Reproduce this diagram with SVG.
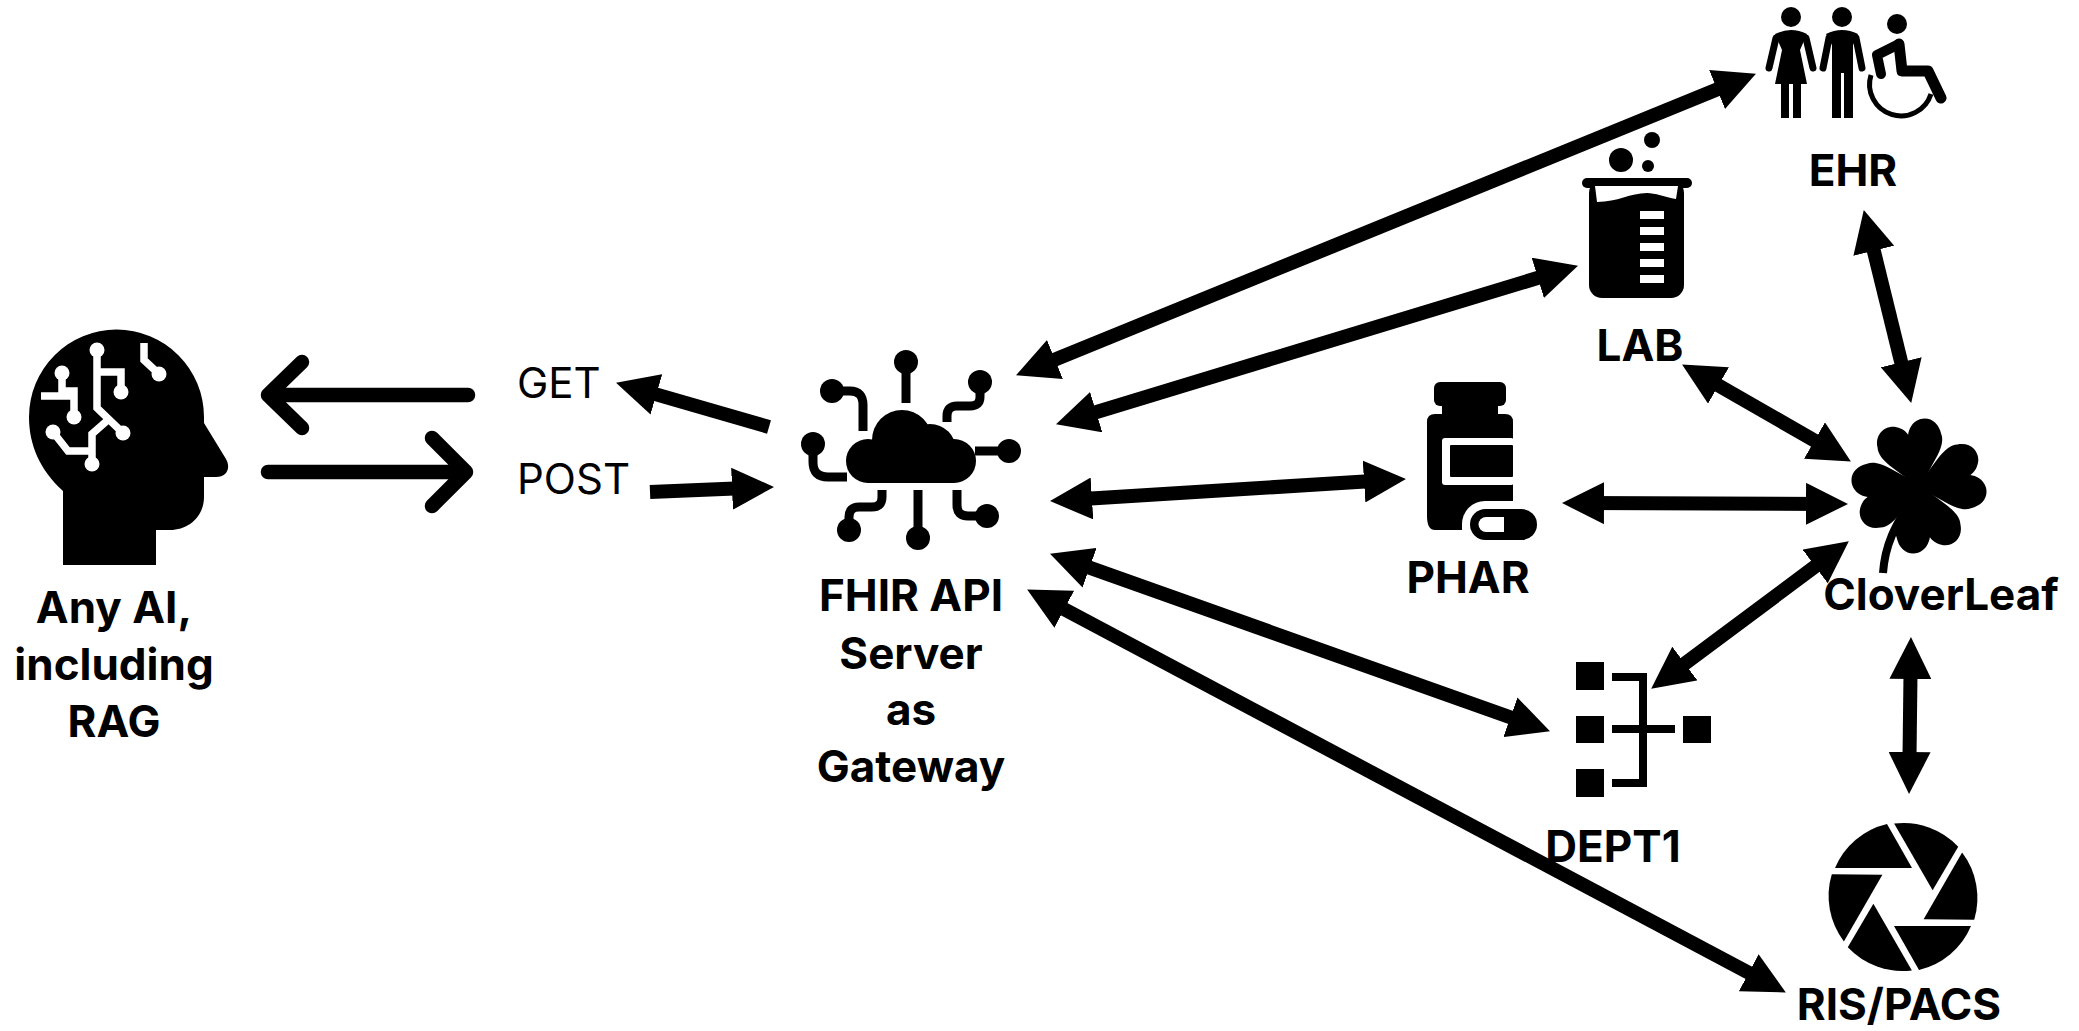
<svg xmlns="http://www.w3.org/2000/svg" xmlns:xlink="http://www.w3.org/1999/xlink" width="2079" height="1031" viewBox="0 0 2079 1031">
<style>
.bg{fill:#fff}
.k{fill:#000}
.w{fill:#fff}
.lbl{font-family:Inter,"Noto Sans","Liberation Sans",sans-serif;font-weight:700;font-size:44px;text-anchor:middle;fill:#000}
.verb{font-family:Inter,"Noto Sans","Liberation Sans",sans-serif;font-size:42px;fill:#000}
.cw{fill:none;stroke:#fff;stroke-width:7.5}
.ck{fill:none;stroke:#000;stroke-width:9}
.limb{fill:none;stroke:#000;stroke-width:7;stroke-linecap:round}
.c{fill:none;stroke:#000;stroke-width:14}
.two{marker-start:url(#h);marker-end:url(#h)}
.one{marker-end:url(#h)}
.big{fill:none;stroke:#000;stroke-width:14.5;stroke-linecap:round;stroke-linejoin:round}
</style>
<defs>
<marker id="h" markerUnits="userSpaceOnUse" markerWidth="42" markerHeight="42" refX="20" refY="20" orient="auto-start-reverse" viewBox="0 0 40 40"><path d="M0 0L40 20L0 40z" fill="#000"/></marker>
<path id="leaf" d="M0 2L-20 -21C-29 -31 -32 -38 -31 -44C-31 -57 -20 -63 -11 -60C-6 -58 -2 -55 0 -50C2 -55 6 -61 14 -62C24 -63 31 -55 31 -44C32 -38 29 -31 20 -21Z"/>
<path id="blade" d="M-16 -73L9 -29L-68 -29A75 75 0 0 1 -16 -73Z"/>
</defs>
<rect class="bg" width="2079" height="1031"/>

<g id="ai">
<path class="k" d="M63 491C40 470 29 445 29 417A87.5 87.5 0 0 1 204 417V423L226 459C231 468 227 477 216 477H204V497C204 516 189 530 170 530H156V565H63Z"/>
<g class="cw">
<path d="M97 350V408L123 433"/><path d="M97 372H121V392"/>
<path d="M62 373V391H74V417"/><path d="M41 396H74"/>
<path d="M144 343V360L159 374"/>
<path d="M53 432L68 451H92"/><path d="M92 464V434L109 419"/>
</g>
<g class="w"><circle cx="97" cy="350" r="7.5"/><circle cx="123" cy="433" r="7.5"/><circle cx="121" cy="392" r="7.5"/><circle cx="62" cy="373" r="7.5"/><circle cx="74" cy="417" r="7.5"/><circle cx="159" cy="374" r="7.5"/><circle cx="53" cy="432" r="7.5"/><circle cx="92" cy="464" r="7.5"/></g>
<text class="lbl" x="114" y="623">Any AI,</text>
<text class="lbl" x="114" y="680">including</text>
<text class="lbl" x="114" y="737">RAG</text>
</g>

<g id="get"><text class="verb" x="517" y="398">GET</text></g>
<g id="post"><text class="verb" x="517" y="494">POST</text></g>

<g id="fhir">
<g class="k"><circle cx="868" cy="461" r="22"/><circle cx="902" cy="440" r="30"/><circle cx="930" cy="450" r="26"/><circle cx="954" cy="461" r="22"/><rect x="868" y="445" width="86" height="38"/></g>
<g class="ck">
<path d="M906 362V403"/><path d="M980 382V397Q980 406 970 406H957Q947 406 947 416V422"/><path d="M975 451H1009"/>
<path d="M957 490V505Q957 516 968 516H987"/><path d="M918 490V538"/><path d="M882 490V497Q882 507 872 507H859Q849 507 849 517V530"/>
<path d="M813 444V462Q813 477 828 477H847"/><path d="M832 391H850Q863 391 863 405V431"/>
</g>
<g class="k"><circle cx="906" cy="362" r="12"/><circle cx="980" cy="382" r="12"/><circle cx="1009" cy="451" r="12"/><circle cx="987" cy="516" r="12"/><circle cx="918" cy="538" r="12"/><circle cx="849" cy="530" r="12"/><circle cx="813" cy="444" r="12"/><circle cx="832" cy="391" r="12"/></g>
<text class="lbl" x="911" y="611">FHIR API</text>
<text class="lbl" x="911" y="669">Server</text>
<text class="lbl" x="911" y="725">as</text>
<text class="lbl" x="911" y="782">Gateway</text>
</g>

<g id="ehr">
<circle class="k" cx="1791" cy="17" r="10"/>
<path class="k" d="M1775 34Q1791 26 1807 34L1800 50L1807 84H1801V118H1793V84H1789V118H1781V84H1775L1782 50Z"/>
<path class="limb" d="M1776 38L1769 68M1806 38L1813 68"/>
<circle class="k" cx="1842" cy="17" r="10"/>
<path class="k" d="M1826 34Q1842 26 1858 34L1853 45V118H1844V73H1841V118H1832V45Z"/>
<path class="limb" d="M1829 38L1823 68M1856 38L1862 68"/>
<circle class="k" cx="1897" cy="24" r="10"/>
<path fill="none" stroke="#000" stroke-width="11" stroke-linecap="round" stroke-linejoin="round" d="M1899 44L1902 71H1928L1941 98"/>
<path fill="none" stroke="#000" stroke-width="10" stroke-linecap="round" stroke-linejoin="round" d="M1899 44L1877 55L1881 74"/>
<path fill="none" stroke="#000" stroke-width="5" d="M1871 75A31 31 0 0 0 1931 94"/>
<text class="lbl" x="1853" y="186">EHR</text>
</g>

<g id="lab">
<circle class="k" cx="1621" cy="160" r="12"/><circle class="k" cx="1652" cy="140" r="8"/><circle class="k" cx="1648" cy="166" r="6"/>
<rect class="k" x="1582" y="178" width="110" height="10" rx="5"/>
<rect class="k" x="1589" y="180" width="95" height="118" rx="13"/>
<path class="w" d="M1595 186H1678L1676 199C1665 197 1655 193 1647 193C1630 193 1618 202 1597 202Z"/>
<g class="w"><rect x="1640" y="211" width="24" height="8"/><rect x="1640" y="227" width="24" height="8"/><rect x="1640" y="243" width="24" height="8"/><rect x="1640" y="259" width="24" height="8"/><rect x="1640" y="275" width="24" height="8"/></g>
<text class="lbl" x="1640" y="361">LAB</text>
</g>

<g id="phar">
<rect class="k" x="1434" y="382" width="72" height="24" rx="6"/>
<rect class="k" x="1442" y="404" width="56" height="12"/>
<path class="k" d="M1435 414H1505Q1513 414 1513 422V530H1435Q1427 530 1427 516V422Q1427 414 1435 414Z"/>
<rect class="w" x="1442" y="438" width="72" height="47" rx="3"/>
<rect class="k" x="1450" y="445" width="63" height="32" rx="1"/>
<rect class="w" x="1462" y="501" width="84" height="47" rx="23"/>
<rect class="w" x="1462" y="524" width="60" height="10"/>
<rect class="k" x="1470" y="509" width="67" height="31" rx="15.5"/>
<path class="w" d="M1504 517V532H1486A7.5 7.5 0 0 1 1486 517Z"/>
<text class="lbl" x="1468" y="593">PHAR</text>
</g>

<g id="cloverleaf">
<path fill="none" stroke="#000" stroke-width="8" d="M1883 573C1885 545 1895 525 1912 500"/>
<g class="k" transform="translate(1919 486) scale(1.05)"><circle r="13"/><use xlink:href="#leaf" href="#leaf" transform="rotate(-12)"/><use xlink:href="#leaf" href="#leaf" transform="rotate(78)"/><use xlink:href="#leaf" href="#leaf" transform="rotate(168)"/><use xlink:href="#leaf" href="#leaf" transform="rotate(258)"/></g>
<text class="lbl" x="1941" y="610">CloverLeaf</text>
</g>

<g id="dept1">
<g class="k"><rect x="1576" y="662" width="28" height="28"/><rect x="1576" y="716" width="28" height="27"/><rect x="1576" y="769" width="28" height="28"/><rect x="1683" y="716" width="28" height="27"/></g>
<path fill="none" stroke="#000" stroke-width="8" d="M1612 677H1643V783H1612M1612 729H1675"/>
<text class="lbl" x="1613" y="862">DEPT1</text>
</g>

<g id="rispacs">
<g class="k" transform="translate(1903 897)"><use xlink:href="#blade" href="#blade"/><use xlink:href="#blade" href="#blade" transform="rotate(60)"/><use xlink:href="#blade" href="#blade" transform="rotate(120)"/><use xlink:href="#blade" href="#blade" transform="rotate(180)"/><use xlink:href="#blade" href="#blade" transform="rotate(240)"/><use xlink:href="#blade" href="#blade" transform="rotate(300)"/></g>
<text class="lbl" x="1899" y="1020">RIS/PACS</text>
</g>

<g id="connectors">
<path class="big" d="M468 395H268M302 362L268 395L302 428"/>
<path class="big" d="M268 472H466M432 438L466 472L432 506"/>
<line class="c one" x1="769" y1="427" x2="636.2" y2="388.6"/>
<line class="c one" x1="650" y1="492" x2="753" y2="487.8"/>
<line class="c two" x1="1035.5" y1="367.4" x2="1736.5" y2="81.6"/>
<line class="c two" x1="1076.1" y1="418.2" x2="1557.9" y2="271.8"/>
<line class="c two" x1="1071" y1="499.8" x2="1385" y2="480.2"/>
<line class="c two" x1="1069.8" y1="560.7" x2="1530.2" y2="724.3"/>
<line class="c two" x1="1045.7" y1="599.4" x2="1767.3" y2="982.6"/>
<line class="c two" x1="1868.8" y1="230.4" x2="1906.2" y2="382.6"/>
<line class="c two" x1="1700.3" y1="375" x2="1832.7" y2="451"/>
<line class="c two" x1="1583" y1="503.1" x2="1827" y2="503.9"/>
<line class="c two" x1="1832" y1="553.9" x2="1668" y2="676.1"/>
<line class="c two" x1="1910.7" y1="658" x2="1909.3" y2="773"/>
</g>
</svg>
